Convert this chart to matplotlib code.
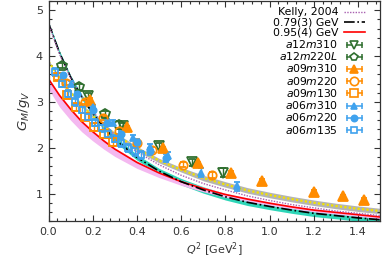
import numpy as np
import matplotlib
matplotlib.use("Agg")
import matplotlib.pyplot as plt
from matplotlib.lines import Line2D
from matplotlib.legend_handler import HandlerLine2D
from matplotlib.ticker import MultipleLocator

# curves
q2_curve = [0.0, 0.05, 0.1, 0.15, 0.2, 0.25, 0.3, 0.4, 0.5, 0.6, 0.7, 0.8, 0.9, 1.0, 1.1, 1.2, 1.3, 1.4, 1.5]
kelly = [4.71, 4.04, 3.53, 3.12, 2.79, 2.52, 2.28, 1.91, 1.63, 1.40, 1.22, 1.08, 0.95, 0.85, 0.76, 0.69, 0.62, 0.57, 0.52]
fit_079 = [4.72, 4.07, 3.54, 3.11, 2.75, 2.45, 2.19, 1.79, 1.49, 1.26, 1.08, 0.93, 0.81, 0.72, 0.64, 0.57, 0.52, 0.47, 0.43]
fit_079_err = [0.03, 0.04, 0.04, 0.05, 0.05, 0.05, 0.06, 0.06, 0.06, 0.07, 0.07, 0.07, 0.07, 0.07, 0.07, 0.07, 0.07, 0.07, 0.07]
fit_095 = [3.50, 3.14, 2.84, 2.57, 2.35, 2.15, 1.97, 1.68, 1.45, 1.26, 1.11, 0.98, 0.88, 0.79, 0.71, 0.64, 0.59, 0.54, 0.49]
fit_095_lo = [0.22, 0.25, 0.24, 0.22, 0.20, 0.18, 0.16, 0.13, 0.10, 0.08, 0.07, 0.06, 0.05, 0.05, 0.04, 0.04, 0.04, 0.04, 0.04]
fit_095_hi = [0.03, 0.03, 0.03, 0.03, 0.03, 0.03, 0.03, 0.03, 0.03, 0.03, 0.03, 0.03, 0.03, 0.03, 0.03, 0.03, 0.03, 0.03, 0.03]
zfit = [3.88, 3.52, 3.21, 2.93, 2.69, 2.48, 2.30, 1.98, 1.72, 1.52, 1.34, 1.20, 1.07, 0.97, 0.88, 0.80, 0.73, 0.67, 0.62]
zfit_err = [0.03, 0.03, 0.03, 0.03, 0.04, 0.04, 0.04, 0.05, 0.05, 0.05, 0.06, 0.06, 0.06, 0.06, 0.06, 0.06, 0.06, 0.06, 0.06]

# lattice data
a12m310_q2 = [0.178, 0.335, 0.498, 0.650, 0.790]
a12m310_g = [3.13, 2.47, 2.04, 1.68, 1.46]
a12m310_e = [0.06, 0.06, 0.07, 0.08, 0.09]

a12m220L_q2 = [0.062, 0.139, 0.255, 0.318]
a12m220L_g = [3.79, 3.33, 2.74, 2.50]
a12m220L_e = [0.06, 0.06, 0.07, 0.08]

a09m310_q2 = [0.186, 0.356, 0.520, 0.676, 0.825, 0.968, 1.203, 1.330, 1.428]
a09m310_g = [3.05, 2.45, 1.99, 1.67, 1.45, 1.27, 1.04, 0.94, 0.86]
a09m310_e = [0.03, 0.03, 0.03, 0.03, 0.04, 0.04, 0.04, 0.04, 0.04]

a09m220_q2 = [0.080, 0.165, 0.245, 0.320, 0.400, 0.470, 0.610, 0.740]
a09m220_g = [3.42, 3.00, 2.65, 2.36, 2.10, 1.96, 1.63, 1.41]
a09m220_e = [0.05, 0.05, 0.05, 0.05, 0.06, 0.06, 0.06, 0.07]

a09m130_q2 = [0.045, 0.085, 0.125, 0.165, 0.205, 0.250, 0.290]
a09m130_g = [3.55, 3.15, 2.88, 2.68, 2.45, 2.30, 2.12]
a09m130_e = [0.08, 0.08, 0.08, 0.08, 0.08, 0.08, 0.09]

a06m310_q2 = [0.100, 0.200, 0.290, 0.380, 0.460, 0.540, 0.690, 0.852]
a06m310_g = [3.40, 2.88, 2.55, 2.22, 2.02, 1.83, 1.46, 1.16]
a06m310_e = [0.05, 0.05, 0.06, 0.06, 0.07, 0.07, 0.09, 0.10]

a06m220_q2 = [0.065, 0.130, 0.200, 0.265, 0.330, 0.400, 0.460, 0.530]
a06m220_g = [3.58, 3.18, 2.82, 2.55, 2.30, 2.12, 1.92, 1.78]
a06m220_e = [0.06, 0.06, 0.06, 0.07, 0.07, 0.07, 0.08, 0.08]

a06m135_q2 = [0.03, 0.06, 0.09, 0.12, 0.15, 0.18, 0.21, 0.24, 0.27, 0.30, 0.33, 0.36, 0.39, 0.42]
a06m135_g = [3.65, 3.40, 3.18, 3.00, 2.83, 2.68, 2.55, 2.42, 2.30, 2.20, 2.10, 2.00, 1.92, 1.84]
a06m135_e = [0.08, 0.08, 0.08, 0.08, 0.08, 0.08, 0.08, 0.08, 0.08, 0.08, 0.09, 0.09, 0.09, 0.09]

GREEN = "#2f6f2f"
ORANGE = "#ff8c00"
BLUE = "#3fa2ee"

plt.rcParams["font.family"] = "DejaVu Sans"
plt.rcParams["mathtext.fontset"] = "dejavusans"

fig = plt.figure(figsize=(3.82, 2.58), dpi=100)
ax = fig.add_axes([0.127, 0.143, 0.868, 0.853])

q = np.array(q2_curve)
ax.fill_between(q, np.array(fit_079) - fit_079_err, np.array(fit_079) + fit_079_err,
                color="#2ed6b8", lw=0, zorder=1)
ax.fill_between(q, np.array(fit_095) - fit_095_lo, np.array(fit_095) + fit_095_hi,
                color="#f4b8f0", lw=0, zorder=1)
ax.fill_between(q, np.array(zfit) - zfit_err, np.array(zfit) + zfit_err,
                color="#b4b4b4", lw=0, zorder=1.5)
ax.plot(q, zfit, color="#f2e200", lw=1.6, ls=(0, (1, 1)), zorder=2)
l_kelly, = ax.plot(q, kelly, color="#a860b0", lw=1.0, ls=(0, (1, 1)), zorder=2.3)
l_079, = ax.plot(q, fit_079, color="black", lw=1.2, ls="-.", zorder=2.2)
l_095, = ax.plot(q, fit_095, color="red", lw=1.2, zorder=2.1)

series = [
    ("$a12m310$", a12m310_q2, a12m310_g, a12m310_e, GREEN, "v", 7.5, "none"),
    ("$a12m220L$", a12m220L_q2, a12m220L_g, a12m220L_e, GREEN, "p", 7.5, "none"),
    ("$a09m310$", a09m310_q2, a09m310_g, a09m310_e, ORANGE, "^", 6.5, ORANGE),
    ("$a09m220$", a09m220_q2, a09m220_g, a09m220_e, ORANGE, "o", 6, "none"),
    ("$a09m130$", a09m130_q2, a09m130_g, a09m130_e, ORANGE, "s", 6, "none"),
    ("$a06m310$", a06m310_q2, a06m310_g, a06m310_e, BLUE, "^", 4.5, BLUE),
    ("$a06m220$", a06m220_q2, a06m220_g, a06m220_e, BLUE, "o", 4.5, BLUE),
    ("$a06m135$", a06m135_q2, a06m135_g, a06m135_e, BLUE, "s", 4.5, "none"),
]

handles = [l_kelly, l_079, l_095]
labels = ["Kelly, 2004", "0.79(3) GeV", "0.95(4) GeV"]
hmap = {}
for lab, xs, ys, es, c, m, ms, fc in series:
    ax.errorbar(xs, ys, yerr=es, fmt=m, color=c, mfc=fc, mec=c, ms=ms, mew=1.3,
                elinewidth=1.0, capsize=2, zorder=3)
    cap = Line2D([], [], color=c, lw=1.1, marker="|", ms=5, mew=1.1)
    mk = Line2D([], [], ls="none", marker=m, color=c, mfc=fc if fc != "none" else "white",
                mec=c, ms=min(ms, 6), mew=1.2)
    hmap[cap] = HandlerLine2D(numpoints=2)
    handles.append((cap, mk))
    labels.append(lab)

ax.legend(handles, labels, loc="upper right", bbox_to_anchor=(0.965, 0.986),
          frameon=False, markerfirst=False, fontsize=7.8, handlelength=2.0,
          handleheight=0.5, labelspacing=0.02, handletextpad=0.5, borderaxespad=0.2,
          borderpad=0.1, handler_map=hmap)

ax.set_xlim(0, 1.5)
ax.set_ylim(0.4, 5.2)
ax.set_yticks([1.0, 2.0, 3.0, 4.0, 5.0])
ax.set_xticks([0.0, 0.2, 0.4, 0.6, 0.8, 1.0, 1.2, 1.4])
ax.xaxis.set_minor_locator(MultipleLocator(0.04))
ax.yaxis.set_minor_locator(MultipleLocator(0.2))
ax.tick_params(which="both", direction="in", top=True, right=True, colors="#333333",
               labelsize=8, width=0.8)
ax.tick_params(which="major", length=4, pad=4)
ax.tick_params(which="minor", length=2)
for s in ax.spines.values():
    s.set_color("#333333")
    s.set_linewidth(0.9)
ax.set_xlabel("$Q^2$ [GeV$^2$]", fontsize=8, color="#333333", labelpad=2.5)
ax.set_ylabel("$G_M/g_V$", fontsize=9.5, color="#333333", labelpad=3)

fig.savefig("out.png", dpi=100)
